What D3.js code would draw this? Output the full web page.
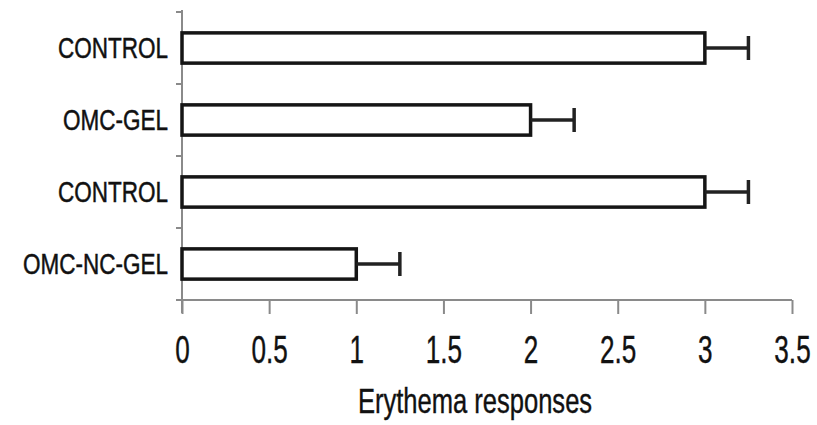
<!DOCTYPE html>
<html>
<head>
<meta charset="utf-8">
<script src="https://cdn.jsdelivr.net/npm/d3@7"></script>
<style>
  html, body { margin: 0; padding: 0; background: #fff; }
  svg { display: block; }
  text { font-family: "Liberation Sans", Arial, sans-serif; fill: #111; }
</style>
</head>
<body>
<svg id="chart" width="817" height="425"></svg>
<script>
// Erythema responses per formulation (mean with error)
const categories = ["CONTROL", "OMC-GEL", "CONTROL ", "OMC-NC-GEL"];
const categoryLabels = ["CONTROL", "OMC-GEL", "CONTROL", "OMC-NC-GEL"];
const means = [3, 2, 3, 1];
const errors = [0.25, 0.25, 0.25, 0.25];
const xTicks = [0, 0.5, 1, 1.5, 2, 2.5, 3, 3.5];
const xTickLabels = ["0", "0.5", "1", "1.5", "2", "2.5", "3", "3.5"];
const xTitle = "Erythema responses";

const svg = d3.select("#chart");
const plotLeft = 182, plotRight = 792, plotTop = 12, plotBottom = 300;

const x = d3.scaleLinear().domain([0, 3.5]).range([plotLeft, plotRight]);
const y = d3.scaleBand().domain(categories).range([plotTop, plotBottom])
  .paddingInner(0.58).paddingOuter(0.29);

const axisColor = "#8a8a8a";

// y axis line with small ticks between the categories
const yAxisG = svg.append("g");
yAxisG.append("line")
  .attr("x1", plotLeft).attr("x2", plotLeft)
  .attr("y1", plotTop - 2).attr("y2", plotBottom + 13)
  .attr("stroke", axisColor).attr("stroke-width", 2);
const yTickPos = [plotTop].concat(categories.map(c => y(c) + y.bandwidth() + y.step() * 0.29));
yAxisG.selectAll("line.yt").data(yTickPos).enter().append("line")
  .attr("class", "yt")
  .attr("x1", plotLeft - 6).attr("x2", plotLeft)
  .attr("y1", d => d).attr("y2", d => d)
  .attr("stroke", axisColor).attr("stroke-width", 2);

// x axis
const xAxis = d3.axisBottom(x).tickValues(xTicks).tickSize(14)
  .tickFormat((d, i) => xTickLabels[i]).tickSizeOuter(0);
const xg = svg.append("g").attr("transform", `translate(0,${plotBottom})`).call(xAxis);
xg.select(".domain").attr("stroke", axisColor).attr("stroke-width", 2)
  .attr("d", `M${plotLeft - 6},0H${plotRight}`);
xg.selectAll(".tick line").attr("stroke", axisColor).attr("stroke-width", 2);
xg.selectAll(".tick text")
  .attr("y", 0).attr("dy", 0)
  .style("font-size", "39px")
  .style("font-family", "'Liberation Sans', Arial, sans-serif")
  .attr("text-anchor", "middle")
  .attr("transform", "translate(0,63) scale(0.67,1)")
  .style("fill", "#111")
  .style("stroke", "#111").style("stroke-width", 0.4);

// bars
svg.append("g").selectAll("rect").data(means).enter().append("rect")
  .attr("x", x(0))
  .attr("y", (d, i) => y(categories[i]))
  .attr("width", d => x(d) - x(0))
  .attr("height", y.bandwidth())
  .attr("fill", "#fff")
  .attr("stroke", "#151515")
  .attr("stroke-width", 3.5);

// error bars
const eg = svg.append("g").attr("stroke", "#222").attr("stroke-width", 3.5);
means.forEach((m, i) => {
  const cy = y(categories[i]) + y.bandwidth() / 2;
  eg.append("line").attr("x1", x(m)).attr("x2", x(m + errors[i]))
    .attr("y1", cy).attr("y2", cy);
  eg.append("line").attr("x1", x(m + errors[i])).attr("x2", x(m + errors[i]))
    .attr("y1", cy - 12).attr("y2", cy + 12);
});

// category labels
svg.append("g").selectAll("text").data(categories).enter().append("text")
  .attr("transform", d => `translate(168,${y(d) + y.bandwidth() / 2 + 10}) scale(0.75,1)`)
  .attr("text-anchor", "end")
  .style("font-size", "30px")
  .style("stroke", "#111").style("stroke-width", 0.5)
  .text((d, i) => categoryLabels[i]);

// x axis title
svg.append("text")
  .attr("transform", "translate(475,413) scale(0.73,1)")
  .attr("text-anchor", "middle")
  .style("font-size", "35px")
  .style("stroke", "#111").style("stroke-width", 0.4)
  .text(xTitle);
</script>
</body>
</html>
